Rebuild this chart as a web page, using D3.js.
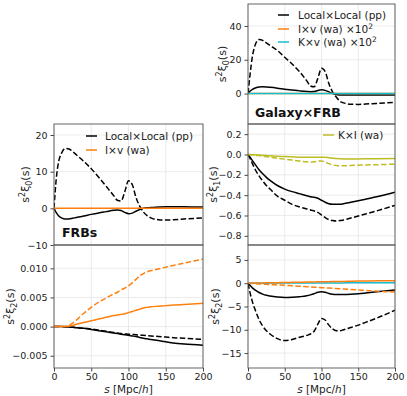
<!DOCTYPE html>
<html>
<head>
<meta charset="utf-8">
<script src="https://cdn.jsdelivr.net/npm/d3@7"></script>
<style>
  body { margin: 0; background: #fff; }
  svg { font-family: "DejaVu Sans", sans-serif; }
</style>
</head>
<body>
<div id="chart"></div>
<script>
// separation s [Mpc/h], shared by every curve
const sGrid = [0, 3, 6, 10, 15, 20, 25, 30, 40, 50, 60, 70, 80, 85, 90, 95, 100, 105, 110, 115, 120, 125, 130, 140, 150, 160, 175, 200];

// Galaxy x FRB, monopole
const gf0LocalPP   = [0, 1.5, 2.5, 3.3, 3.9, 4.0, 3.9, 3.7, 3.2, 2.6, 2.1, 1.6, 1.2, 1.1, 1.2, 1.8, 2.2, 1.9, 1.0, 0.0, -0.6, -0.8, -0.9, -0.9, -0.9, -0.9, -0.9, -0.9];
const gf0LocalPPd  = [0, 12, 22, 29, 32, 31.5, 30, 28.5, 25.5, 21.5, 17.5, 13, 7.5, 4.5, 4, 9, 15, 13, 6, 1, -2, -4.5, -5.5, -6.3, -6.4, -6.2, -5.8, -5.2];
const gf0Iv        = [0, 0, 0, 0, 0, 0, 0, 0, 0, 0.05, 0.05, 0.05, 0.05, 0.05, 0.05, 0.05, 0.05, 0.05, 0.05, 0.05, 0.05, 0.05, 0.05, 0.05, 0.05, 0.05, 0.05, 0.05];
const gf0Kv        = [0, 0, 0, 0, 0, 0, 0, 0, 0, 0, 0, 0, 0, 0, 0, 0, 0, 0, 0, 0, 0, 0, 0, 0, 0, 0, 0, 0];

// FRB x FRB, monopole
const ff0LocalPP   = [0, -1.2, -2, -2.6, -2.9, -2.9, -2.7, -2.5, -2.1, -1.65, -1.25, -0.9, -0.55, -0.45, -0.6, -1.1, -1.45, -1.3, -0.8, -0.3, 0, 0.15, 0.25, 0.35, 0.45, 0.45, 0.4, 0.35];
const ff0LocalPPd  = [0, 8, 12.5, 15, 16.3, 16.2, 15.5, 14.6, 12.8, 10.8, 8.5, 6, 3.5, 2.2, 2, 4.5, 7.5, 6.5, 3, 0.6, -1, -2, -2.6, -3.1, -3.2, -3.1, -2.9, -2.6];
const ff0Iv        = [0, 0, 0, 0, 0, 0, 0, 0, 0, 0, 0, 0, 0, 0, 0, 0, 0, 0, 0, 0, 0, 0, 0, 0, 0, 0, 0, 0];

// FRB x FRB, quadrupole
const ff2LocalPP   = [0, 0, 0, 0, -0.00003, -0.00007, -0.00013, -0.0002, -0.0003, -0.0005, -0.0007, -0.0009, -0.0011, -0.0012, -0.0013, -0.0014, -0.0015, -0.0016, -0.0017, -0.00185, -0.002, -0.0021, -0.0022, -0.0024, -0.0026, -0.0028, -0.003, -0.0032];
const ff2LocalPPd  = [0, 0, 0, 0, -0.00003, -0.00006, -0.0001, -0.00015, -0.0003, -0.0004, -0.0006, -0.0008, -0.001, -0.0011, -0.0012, -0.00125, -0.0013, -0.00135, -0.0014, -0.00145, -0.0015, -0.00155, -0.0016, -0.0017, -0.0018, -0.0019, -0.002, -0.0022];
const ff2Iv        = [0, 0, 0, 0, 0.00002, 0.0001, 0.0002, 0.0004, 0.0007, 0.001, 0.0013, 0.0016, 0.0019, 0.002, 0.0021, 0.0022, 0.0024, 0.0026, 0.0028, 0.003, 0.0032, 0.0033, 0.0034, 0.0035, 0.0036, 0.0037, 0.0038, 0.004];
const ff2Ivd       = [0, 0, 0, 0, 0.00005, 0.0002, 0.0006, 0.0011, 0.0023, 0.0033, 0.0042, 0.0049, 0.0056, 0.0059, 0.0063, 0.0066, 0.007, 0.0075, 0.0081, 0.0087, 0.0091, 0.0094, 0.0096, 0.0099, 0.0102, 0.0105, 0.0109, 0.0116];

// Galaxy x FRB, dipole
const gf1LocalPP   = [0, -0.03, -0.06, -0.1, -0.15, -0.19, -0.225, -0.255, -0.305, -0.34, -0.365, -0.385, -0.405, -0.415, -0.42, -0.43, -0.45, -0.47, -0.485, -0.49, -0.49, -0.49, -0.485, -0.47, -0.455, -0.44, -0.415, -0.37];
const gf1LocalPPd  = [0, -0.04, -0.09, -0.15, -0.21, -0.26, -0.305, -0.34, -0.41, -0.45, -0.49, -0.515, -0.535, -0.545, -0.555, -0.57, -0.595, -0.62, -0.64, -0.65, -0.655, -0.65, -0.645, -0.625, -0.605, -0.585, -0.555, -0.5];
const gf1KI        = [0, -0.001, -0.002, -0.003, -0.005, -0.008, -0.01, -0.013, -0.017, -0.02, -0.023, -0.026, -0.028, -0.028, -0.028, -0.027, -0.026, -0.028, -0.032, -0.036, -0.04, -0.042, -0.043, -0.043, -0.043, -0.042, -0.041, -0.04];
const gf1KId       = [0, -0.002, -0.004, -0.006, -0.011, -0.017, -0.022, -0.027, -0.037, -0.046, -0.055, -0.064, -0.072, -0.075, -0.072, -0.065, -0.064, -0.075, -0.09, -0.102, -0.108, -0.11, -0.11, -0.108, -0.105, -0.102, -0.1, -0.095];

// Galaxy x FRB, quadrupole
const gf2LocalPP   = [0, -0.5, -1, -1.5, -2, -2.35, -2.6, -2.75, -2.95, -3.05, -3.0, -2.9, -2.7, -2.5, -2.25, -1.95, -1.85, -1.95, -2.2, -2.35, -2.4, -2.4, -2.4, -2.35, -2.25, -2.1, -1.85, -1.45];
const gf2LocalPPd  = [0, -2.2, -4, -5.8, -7.8, -9.2, -10.2, -10.9, -11.9, -12.3, -12.1, -11.6, -11.2, -10.9, -10.3, -8.8, -7.6, -7.9, -9.0, -9.8, -10.2, -10.2, -10.0, -9.5, -9.0, -8.4, -7.5, -5.8];
const gf2Iv        = [0, 0.01, 0.02, 0.03, 0.05, 0.06, 0.08, 0.09, 0.12, 0.15, 0.18, 0.21, 0.24, 0.26, 0.27, 0.29, 0.3, 0.32, 0.33, 0.35, 0.36, 0.38, 0.39, 0.42, 0.45, 0.47, 0.51, 0.55];
const gf2Ivd       = [0, -0.03, -0.06, -0.1, -0.15, -0.19, -0.24, -0.29, -0.37, -0.45, -0.55, -0.65, -0.75, -0.8, -0.85, -0.9, -0.95, -1.0, -1.05, -1.1, -1.15, -1.2, -1.25, -1.35, -1.45, -1.55, -1.7, -1.9];
const gf2Kv        = [0, 0, 0, 0, 0.01, 0.01, 0.01, 0.02, 0.02, 0.03, 0.03, 0.04, 0.04, 0.05, 0.05, 0.05, 0.05, 0.06, 0.06, 0.06, 0.07, 0.07, 0.07, 0.08, 0.08, 0.09, 0.09, 0.1];

const xTicks = [0, 50, 100, 150, 200];

const colors = { pp: "#000000", Iv: "#ff7f0e", Kv: "#17becf", KI: "#bcbd22" };

const width = 407, height = 396;
const colX = { left: [54, 203], right: [248, 395] };
const rowY = [[4, 124], [124, 245], [245, 368]];

const svg = d3.select("#chart").append("svg")
    .attr("width", width)
    .attr("height", height);

const panels = [
    { col: "right", row: 0, domain: [-18, 53], ticks: [0, 20, 40], fmt: d3.format("d"), sub: "0", labelX: 222,
      series: [
        { y: gf0LocalPP, c: colors.pp }, { y: gf0LocalPPd, c: colors.pp, dash: true },
        { y: gf0Iv, c: colors.Iv }, { y: gf0Kv, c: colors.Kv }
      ] },
    { col: "left", row: 1, domain: [-10, 23], ticks: [-10, 0, 10, 20], fmt: d3.format("d"), sub: "0", labelX: 25,
      series: [
        { y: ff0LocalPP, c: colors.pp }, { y: ff0LocalPPd, c: colors.pp, dash: true },
        { y: ff0Iv, c: colors.Iv }
      ] },
    { col: "left", row: 2, domain: [-0.0071, 0.014], ticks: [-0.005, 0, 0.005, 0.01], fmt: d3.format(".3f"), sub: "2", labelX: 10, bottom: true,
      series: [
        { y: ff2LocalPP, c: colors.pp }, { y: ff2LocalPPd, c: colors.pp, dash: true },
        { y: ff2Iv, c: colors.Iv }, { y: ff2Ivd, c: colors.Iv, dash: true }
      ] },
    { col: "right", row: 1, domain: [-0.89, 0.30], ticks: [-0.8, -0.6, -0.4, -0.2, 0, 0.2], fmt: d3.format(".1f"), sub: "1", labelX: 213,
      series: [
        { y: gf1LocalPP, c: colors.pp }, { y: gf1LocalPPd, c: colors.pp, dash: true },
        { y: gf1KI, c: colors.KI }, { y: gf1KId, c: colors.KI, dash: true }
      ] },
    { col: "right", row: 2, domain: [-18.2, 8.2], ticks: [-15, -10, -5, 0, 5], fmt: d3.format("d"), sub: "2", labelX: 215, bottom: true,
      series: [
        { y: gf2LocalPP, c: colors.pp }, { y: gf2LocalPPd, c: colors.pp, dash: true },
        { y: gf2Ivd, c: colors.Iv, dash: true }, { y: gf2Kv, c: colors.Kv }, { y: gf2Iv, c: colors.Iv }
      ] }
];

panels.forEach((p, i) => {
    const [x0, x1] = colX[p.col];
    const [y0, y1] = rowY[p.row];
    const x = d3.scaleLinear().domain([0, 200]).range([x0, x1]);
    const y = d3.scaleLinear().domain(p.domain).range([y1, y0]);
    const g = svg.append("g");

    // grid
    g.selectAll(".gx").data(xTicks).enter().append("line")
        .attr("x1", d => x(d)).attr("x2", d => x(d))
        .attr("y1", y0).attr("y2", y1)
        .attr("stroke", "#e6e6e6").attr("stroke-width", 0.8);
    g.selectAll(".gy").data(p.ticks).enter().append("line")
        .attr("x1", x0).attr("x2", x1)
        .attr("y1", d => y(d)).attr("y2", d => y(d))
        .attr("stroke", "#e6e6e6").attr("stroke-width", 0.8);

    // curves
    g.append("clipPath").attr("id", "clip" + i)
        .append("rect").attr("x", x0).attr("y", y0).attr("width", x1 - x0).attr("height", y1 - y0);
    const line = d3.line().x(d => x(d[0])).y(d => y(d[1])).curve(d3.curveMonotoneX);
    p.series.forEach(s => {
        g.append("path")
            .attr("clip-path", `url(#clip${i})`)
            .attr("d", line(sGrid.map((v, k) => [v, s.y[k]])))
            .attr("fill", "none")
            .attr("stroke", s.c)
            .attr("stroke-width", 1.5)
            .attr("stroke-dasharray", s.dash ? "5.5,2.4" : null);
    });

    // y axis
    const yAxis = g.append("g")
        .attr("transform", `translate(${x0},0)`)
        .call(d3.axisLeft(y).tickValues(p.ticks).tickFormat(p.fmt).tickSize(3.5).tickPadding(3));
    yAxis.select(".domain").remove();
    yAxis.selectAll("line").attr("stroke", "#444");
    yAxis.selectAll("text").attr("font-size", 9.5).attr("fill", "#222").attr("font-family", "DejaVu Sans");

    if (p.bottom) {
        const xAxis = g.append("g")
            .attr("transform", `translate(0,${y1})`)
            .call(d3.axisBottom(x).tickValues(xTicks).tickFormat(d3.format("d")).tickSize(3.5).tickPadding(2));
        xAxis.select(".domain").remove();
        xAxis.selectAll("line").attr("stroke", "#444");
        xAxis.selectAll("text").attr("font-size", 9.5).attr("fill", "#222").attr("font-family", "DejaVu Sans");

        const t = g.append("text")
            .attr("x", (x0 + x1) / 2).attr("y", 393)
            .attr("text-anchor", "middle").attr("font-size", 10.5).attr("fill", "#222");
        t.append("tspan").attr("font-style", "italic").text("s");
        t.append("tspan").text(" [Mpc/");
        t.append("tspan").attr("font-style", "italic").text("h");
        t.append("tspan").text("]");
    }

    // frame
    g.append("rect")
        .attr("x", x0).attr("y", y0).attr("width", x1 - x0).attr("height", y1 - y0)
        .attr("fill", "none").attr("stroke", "#555").attr("stroke-width", 0.9);

    // y label  s^2 xi_l(s)
    const lab = g.append("text")
        .attr("transform", `translate(${p.labelX},${(y0 + y1) / 2}) rotate(-90)`)
        .attr("text-anchor", "middle").attr("dy", "0.35em")
        .attr("font-size", 11).attr("fill", "#222");
    lab.append("tspan").text("s");
    lab.append("tspan").attr("dy", -4).attr("font-size", 8).text("2");
    lab.append("tspan").attr("dy", 4).text("ξ");
    lab.append("tspan").attr("dy", 3).attr("font-size", 8).text(p.sub);
    lab.append("tspan").attr("dy", -3).text("(s)");
});

// legends
function legend(xLine, xText, items) {
    items.forEach(it => {
        svg.append("line")
            .attr("x1", xLine).attr("x2", xLine + 11)
            .attr("y1", it.y).attr("y2", it.y)
            .attr("stroke", it.c).attr("stroke-width", 1.5);
        const t = svg.append("text")
            .attr("x", xText).attr("y", it.y).attr("dy", "0.35em")
            .attr("font-size", 10.5).attr("fill", "#222");
        t.append("tspan").text(it.label);
        if (it.sup) t.append("tspan").attr("dy", -4).attr("font-size", 7.5).text(it.sup);
    });
}
legend(278, 298, [
    { y: 15, c: colors.pp, label: "Local×Local (pp)" },
    { y: 29, c: colors.Iv, label: "I×v (wa) ×10", sup: "2" },
    { y: 42, c: colors.Kv, label: "K×v (wa) ×10", sup: "2" }
]);
legend(86, 105, [
    { y: 136, c: colors.pp, label: "Local×Local (pp)" },
    { y: 150, c: colors.Iv, label: "I×v (wa)" }
]);
legend(323, 338, [
    { y: 135, c: colors.KI, label: "K×I (wa)" }
]);

// panel titles
svg.append("text").attr("x", 255).attr("y", 117)
    .attr("font-size", 12.5).attr("font-weight", "bold").attr("fill", "#111").text("Galaxy×FRB");
svg.append("text").attr("x", 62).attr("y", 237)
    .attr("font-size", 12.5).attr("font-weight", "bold").attr("fill", "#111").text("FRBs");
</script>
</body>
</html>
